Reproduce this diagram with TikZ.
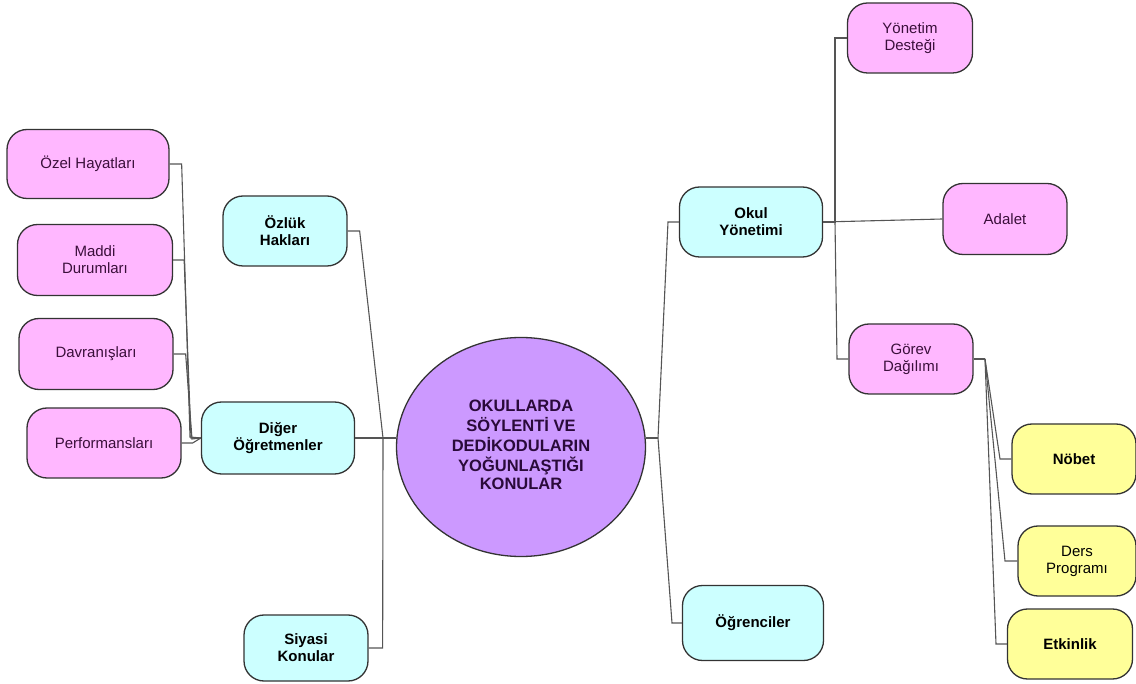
\documentclass[tikz,border=0pt]{standalone}
\usepackage{fontspec}
\setmainfont{Liberation Sans}
\usetikzlibrary{shapes.geometric}
\definecolor{pinkfill}{HTML}{FFB7FF}
\definecolor{cyanfill}{HTML}{CCFFFF}
\definecolor{yellowfill}{HTML}{FFFF99}
\definecolor{hubfill}{HTML}{CC99FF}
\definecolor{plum}{HTML}{3A0F3A}
\definecolor{hubtext}{HTML}{2A0A3A}
\definecolor{wire}{HTML}{555555}
\tikzset{
  box/.style={draw=black!80, line width=1.3pt, rounded corners=20pt, align=center,
    inner sep=0pt, minimum height=70pt, font=\fontsize{15}{17}\selectfont},
  topic/.style={box, fill=pinkfill, text=plum},
  branch/.style={box, fill=cyanfill, text=black, font=\fontsize{15}{17}\selectfont\bfseries},
  duty/.style={box, fill=yellowfill, text=black},
  bolded/.style={font=\fontsize{15}{17}\selectfont\bfseries},
  hub/.style={ellipse, draw=black!80, line width=1.3pt, fill=hubfill, text=hubtext,
    inner sep=0pt, minimum width=249pt, minimum height=219pt, align=center,
    font=\fontsize{16.5}{18.5}\selectfont\bfseries},
  wire/.style={draw=wire, line width=1.1pt}
}
\begin{document}
\begin{tikzpicture}[x=1pt, y=-1pt]
\useasboundingbox (0,0) rectangle (1136,684);
\begin{scope}
\clip (0,0) rectangle (1136,684);

% central topic
\node[hub] (hub) at (521,447) {\raisebox{9pt}{\begin{tabular}{@{}c@{}}OKULLARDA\\SÖYLENTİ VE\\DEDİKODULARIN\\YOĞUNLAŞTIĞI\\KONULAR\end{tabular}}};

% left side
\node[topic, minimum width=162pt, minimum height=69pt] (ozel) at (88,164) {Özel Hayatları};
\node[topic, minimum width=155pt, minimum height=71pt] (maddi) at (95,260) {Maddi\\Durumları};
\node[topic, minimum width=154pt, minimum height=71pt] (davr) at (96,354) {Davranışları};
\node[topic, minimum width=154pt] (perf) at (104,443) {Performansları};

\node[branch, minimum width=124pt] (ozluk) at (285,231) {Özlük\\Hakları};
\node[branch, minimum width=153pt, minimum height=72pt] (diger) at (278,438) {Diğer\\Öğretmenler};
\node[branch, minimum width=124pt, minimum height=66pt] (siyasi) at (306,648) {Siyasi\\Konular};

% right side
\node[branch, minimum width=143pt] (okul) at (751,222) {Okul\\Yönetimi};
\node[branch, minimum width=141pt, minimum height=75pt] (ogr) at (753,623) {Öğrenciler};

\node[topic, minimum width=125pt] (yon) at (910,38) {Yönetim\\Desteği};
\node[topic, minimum width=124pt, minimum height=71pt] (adalet) at (1005,219) {Adalet};
\node[topic, minimum width=124pt] (gorev) at (911,359) {Görev\\Dağılımı};

\node[duty, bolded, minimum width=124pt] (nobet) at (1074,459) {Nöbet};
\node[duty, minimum width=118pt] (ders) at (1077,561) {Ders\\Programı};
\node[duty, bolded, minimum width=125pt] (etk) at (1070,644) {Etkinlik};

% connectors, left
\draw[wire] (ozel.east) -- ++(12,0) -- (190,437) -- (diger.west);
\draw[wire] (maddi.east) -- ++(11,0) -- (191,438) -- (diger.west);
\draw[wire] (davr.east) -- ++(12,0) -- (192,439) -- (diger.west);
\draw[wire] (perf.east) -- ++(11,0) -- (diger.west);

\coordinate (ltrunk) at (383,438);
\draw[wire] (ozluk.east) -- ++(12,0) -- (ltrunk);
\draw[wire] (siyasi.east) -- ++(14,0) -- (ltrunk);
\draw[wire] (diger.east) -- (hub.west |- diger.east);

% connectors, right
\coordinate (rtrunk) at (658,438);
\draw[wire] (hub.east |- rtrunk) -- (rtrunk);
\draw[wire] (rtrunk) -- (668,222) -- (okul.west);
\draw[wire] (rtrunk) -- (672,623) -- (ogr.west);

\coordinate (otrunk) at (835,222);
\draw[wire] (okul.east) -- (otrunk) -- (835,38) -- (yon.west);
\draw[wire] (okul.east) -- (adalet.west);
\draw[wire] (otrunk) -- (837,359) -- (gorev.west);

\coordinate (gtrunk) at (985,359);
\draw[wire] (gorev.east) -- (gtrunk);
\draw[wire] (gtrunk) -- (1000,459) -- (nobet.west);
\draw[wire] (gtrunk) -- (1005,561) -- (ders.west);
\draw[wire] (gtrunk) -- (996,644) -- (etk.west);
\end{scope}
\end{tikzpicture}
\end{document}
